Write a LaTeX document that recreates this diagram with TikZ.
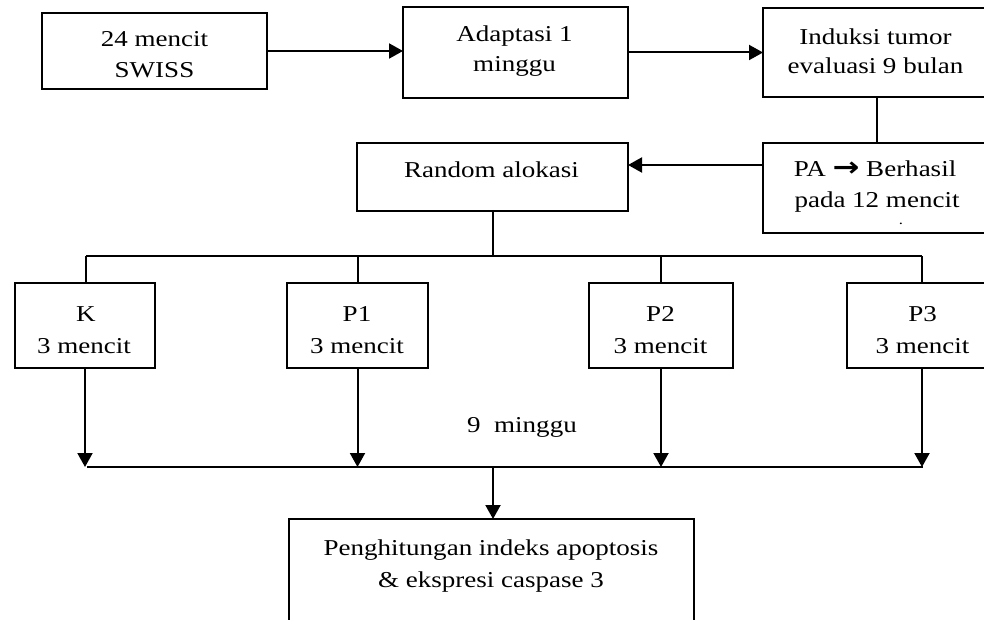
\documentclass[tikz,border=0pt]{standalone}
\usepackage{fontspec}
\setmainfont{Liberation Serif}[FakeStretch=1.19]
\newfontfamily\arrowfont{DejaVu Sans}[FakeStretch=1.19]
\usetikzlibrary{arrows.meta}
\tikzset{
  box/.style={draw, line width=1.5pt, inner sep=0pt, outer sep=0pt},
  tx/.style={anchor=base, inner sep=0pt, font=\fontsize{22.7}{30}\selectfont},
  conn/.style={line width=2pt},
  arr/.style={line width=2pt, -{Triangle[length=14pt,width=15pt]}}
}
\begin{document}
\begin{tikzpicture}[x=1pt,y=-1pt]
\useasboundingbox (0,0) rectangle (984,620);
\fill[white] (0,0) rectangle (984,620);
\clip (0,0) rectangle (984,620);
% boxes
\node[box, minimum width=225pt, minimum height=76pt] (b1) at (154.5,51) {};
\node[box, minimum width=225pt, minimum height=91pt] (b2) at (515.5,52.5) {};
\node[box, minimum width=228pt, minimum height=89pt] (b3) at (877,52.5) {};
\node[box, minimum width=228pt, minimum height=90pt] (pa) at (877,188) {};
\node[box, minimum width=271pt, minimum height=68pt] (rnd) at (492.5,177) {};
\node[box, minimum width=140pt, minimum height=85pt] (K) at (85,325.5) {};
\node[box, minimum width=141pt, minimum height=85pt] (P1) at (357.5,325.5) {};
\node[box, minimum width=144pt, minimum height=85pt] (P2) at (661,325.5) {};
\node[box, minimum width=150pt, minimum height=85pt] (P3) at (922,325.5) {};
\node[box, minimum width=405pt, minimum height=131pt] (res) at (491.5,584.5) {};
% texts
\node[tx] (t1a) at (154.5,47) {24 mencit};
\node[tx] (t1b) at (154.5,78) {SWISS};
\node[tx] (t2a) at (514.5,42) {Adaptasi 1};
\node[tx] (t2b) at (514.5,72) {minggu};
\node[tx] (t3a) at (875.5,45) {Induksi tumor};
\node[tx] (t3b) at (875.5,74) {evaluasi 9 bulan};
\node[tx] (t4a) at (875,177) {PA {\arrowfont\bfseries\fontsize{27}{30}\selectfont →} Berhasil};
\node[tx] (t4b) at (877,208) {pada 12 mencit};
\node[anchor=base, inner sep=0pt, font=\fontsize{14}{14}\selectfont] (dot) at (901,225) {.};
\node[tx] (t5) at (491.5,178) {Random alokasi};
\node[tx] (tKa) at (86,321) {K};
\node[tx] (tKb) at (84,353) {3 mencit};
\node[tx] (tP1a) at (357,321) {P1};
\node[tx] (tP1b) at (357,353) {3 mencit};
\node[tx] (tP2a) at (660.5,321) {P2};
\node[tx] (tP2b) at (660.5,353) {3 mencit};
\node[tx] (tP3a) at (922.5,321) {P3};
\node[tx] (tP3b) at (922.5,353) {3 mencit};
\node[tx] (nine) at (522,432) {9\ \ minggu};
\node[tx] (t6a) at (491,555) {Penghitungan indeks apoptosis};
\node[tx] (t6b) at (491,587) {\& ekspresi caspase 3};
% connectors
\draw[arr] (b1.east) -- (b1.east -| b2.west);
\draw[arr] (b2.east) -- (b3.west);
\draw[conn] (b3.south) -- (pa.north);
\draw[arr] ([yshift=23pt]pa.west) -- ([yshift=12pt]rnd.east);
\coordinate (bus1L) at (86,256);
\coordinate (bus1R) at (922,256);
\draw[conn] (rnd.south) -- (rnd.south |- bus1L);
\draw[conn] (bus1L) -- (bus1R);
\draw[conn] (bus1L) -- (bus1L |- K.north);
\draw[conn] (P1.north |- bus1L) -- (P1.north);
\draw[conn] (P2.north |- bus1L) -- (P2.north);
\draw[conn] (bus1R) -- (bus1R |- P3.north);
\coordinate (bus2L) at (87,467);
\coordinate (bus2R) at (923,467);
\coordinate (j) at (493,467);
\draw[conn] (bus2L) -- (bus2R);
\draw[arr] (K.south) -- (K.south |- bus2L);
\draw[arr] (P1.south) -- (P1.south |- bus2L);
\draw[arr] (P2.south) -- (P2.south |- bus2L);
\draw[arr] (P3.south) -- (P3.south |- bus2L);
\draw[arr] (j) -- (j |- res.north);
\end{tikzpicture}
\end{document}
